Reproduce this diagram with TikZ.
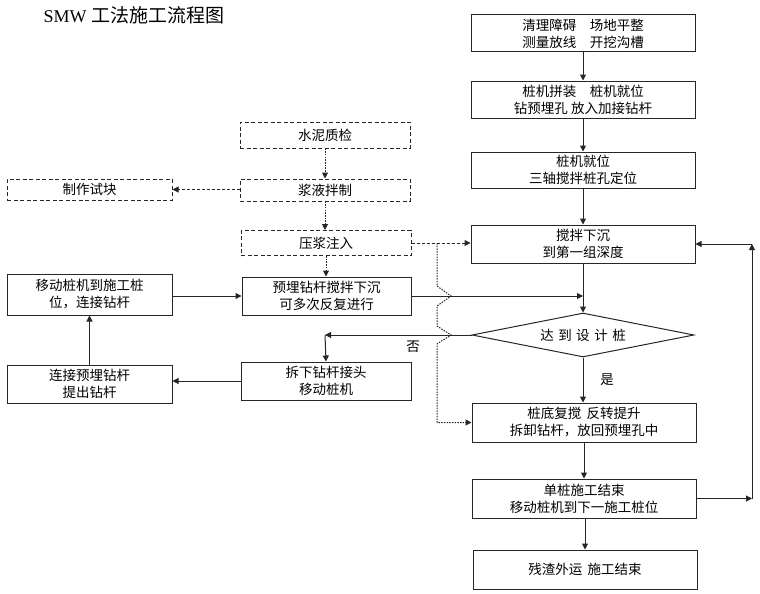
\documentclass[tikz,border=0pt]{standalone}
\usepackage{fontspec}
\setmainfont{Liberation Serif}
\newfontfamily\cjk{Noto Sans CJK SC}
\usetikzlibrary{shapes.geometric,arrows.meta}
\tikzset{
  base/.style={draw=black!85, line width=1pt, inner sep=0pt, align=center, font=\cjk\fontsize{13.5}{17}\selectfont},
  box/.style={base, rectangle, minimum width=224pt, minimum height=38pt},
  lbox/.style={base, rectangle, minimum width=167pt, minimum height=38pt},
  dbox/.style={base, rectangle, dashed, dash pattern=on 4pt off 2.5pt, minimum width=170pt, minimum height=24pt},
  dia/.style={base, diamond, aspect=5, minimum width=222pt, minimum height=44pt},
  arr/.style={draw=black!85, line width=1pt, -{Triangle[length=6pt,width=6pt]}},
  darr/.style={arr, dash pattern=on 3pt off 2pt},
  dotarr/.style={arr, dash pattern=on 1.5pt off 1.2pt},
  plain/.style={draw=black!85, line width=1pt},
  lab/.style={font=\cjk\fontsize{13.5}{15}\selectfont}
}
\begin{document}
\begin{tikzpicture}[x=1pt,y=-1pt]
\useasboundingbox (0,0) rectangle (760,594);
\node[anchor=west, font=\fontsize{18}{20}\selectfont] (title) at (40,15) {SMW {\cjk\fontsize{19}{20}\selectfont 工法施工流程图}};
% right column
\node[box, minimum height=37pt] (b1) at (583,33.5) {清理障碍\quad 场地平整\\测量放线\quad 开挖沟槽};
\node[box, minimum height=37pt] (b2) at (583,99.5) {桩机拼装\quad 桩机就位\\钻预埋孔 放入加接钻杆};
\node[box, minimum height=36pt] (b3) at (583,170) {桩机就位\\三轴搅拌桩孔定位};
\node[box] (b4) at (583,244) {搅拌下沉\\到第一组深度};
\node[dia] (d) at (583,335) {达\,\,到\,\,设\,\,计\,\,桩};
\node[box, minimum height=39pt] (b5) at (584,422.5) {桩底复搅\, 反转提升\\拆卸钻杆，放回预埋孔中};
\node[box, minimum height=39pt] (b6) at (584,498.5) {单桩施工结束\\移动桩机到下一施工桩位};
\node[box, minimum height=39pt] (b7) at (585,569.5) {残渣外运\, 施工结束};
% left dashed
\node[dbox, minimum height=26pt] (sn) at (325,135) {水泥质检};
\node[dbox, minimum height=22pt] (jy) at (325,190) {浆液拌制};
\node[dbox, minimum width=165pt, minimum height=21pt] (zz) at (89.5,189.5) {制作试块};
\node[dbox, minimum height=25pt] (yj) at (326,243) {压浆注入};
% left solid
\node[lbox, minimum width=169pt] (ym) at (326.5,296) {预埋钻杆搅拌下沉\\可多次反复进行};
\node[lbox, minimum width=165pt, minimum height=41pt] (yd) at (89.5,294.5) {移动桩机到施工桩\\位，连接钻杆};
\node[lbox, minimum width=165pt] (lj) at (89.5,384) {连接预埋钻杆\\提出钻杆};
\node[lbox, minimum width=170pt] (cx) at (326,381) {拆下钻杆接头\\移动桩机};
% labels
\node[lab] (no) at (413,347) {否};
\node[lab] (yes) at (607,380) {是};
% coordinates
\coordinate (c1) at (325,335);
\coordinate (r1) at (752,498.5);
\coordinate (r2) at (752,244);
\coordinate (j0) at (437,243);
% main column arrows
\draw[arr] (b1) -- (b2);
\draw[arr] (b2) -- (b3);
\draw[arr] (b3) -- (b4);
\draw[arr] (b4.south -| d.north) -- (d.north);
\draw[arr] (d.south) -- (d.south |- b5.north);
\draw[arr] (b5.south -| b6.north) -- (b6.north);
\draw[arr] (b6.south -| b7.north) -- (b7.north);
% loop back
\draw[arr] (b6.east |- r1) -- (r1);
\draw[arr] (r1) -- (r2);
\draw[arr] (r2) -- (b4.east |- r2);
% no branch
\draw[arr] (d.west) -- (c1);
\draw[arr] (c1) -- (cx.north);
\draw[arr] (cx.west) -- (cx.west -| lj.east);
\draw[arr] (lj.north) -- (yd.south);
\draw[arr] (yd.east |- ym.west) -- (ym.west);
\draw[arr] (ym.east) -- (ym.east -| d.north);
% dashed flows
\draw[dotarr] (sn.south) -- (sn.south |- jy.north);
\draw[darr] (jy.west |- zz.east) -- (zz.east);
\draw[dotarr] (jy.south) -- (jy.south |- yj.north);
\draw[dotarr] (yj.south) -- (yj.south |- ym.north);
\draw[darr] (yj.east) -- (yj.east -| b4.west);
\draw[dotarr] (j0) -- (437,286) -- (451,296) -- (437,306) -- (437,326) -- (451,335) -- (437,344) -- (437,422.5) -- (b5.west);
\end{tikzpicture}
\end{document}
